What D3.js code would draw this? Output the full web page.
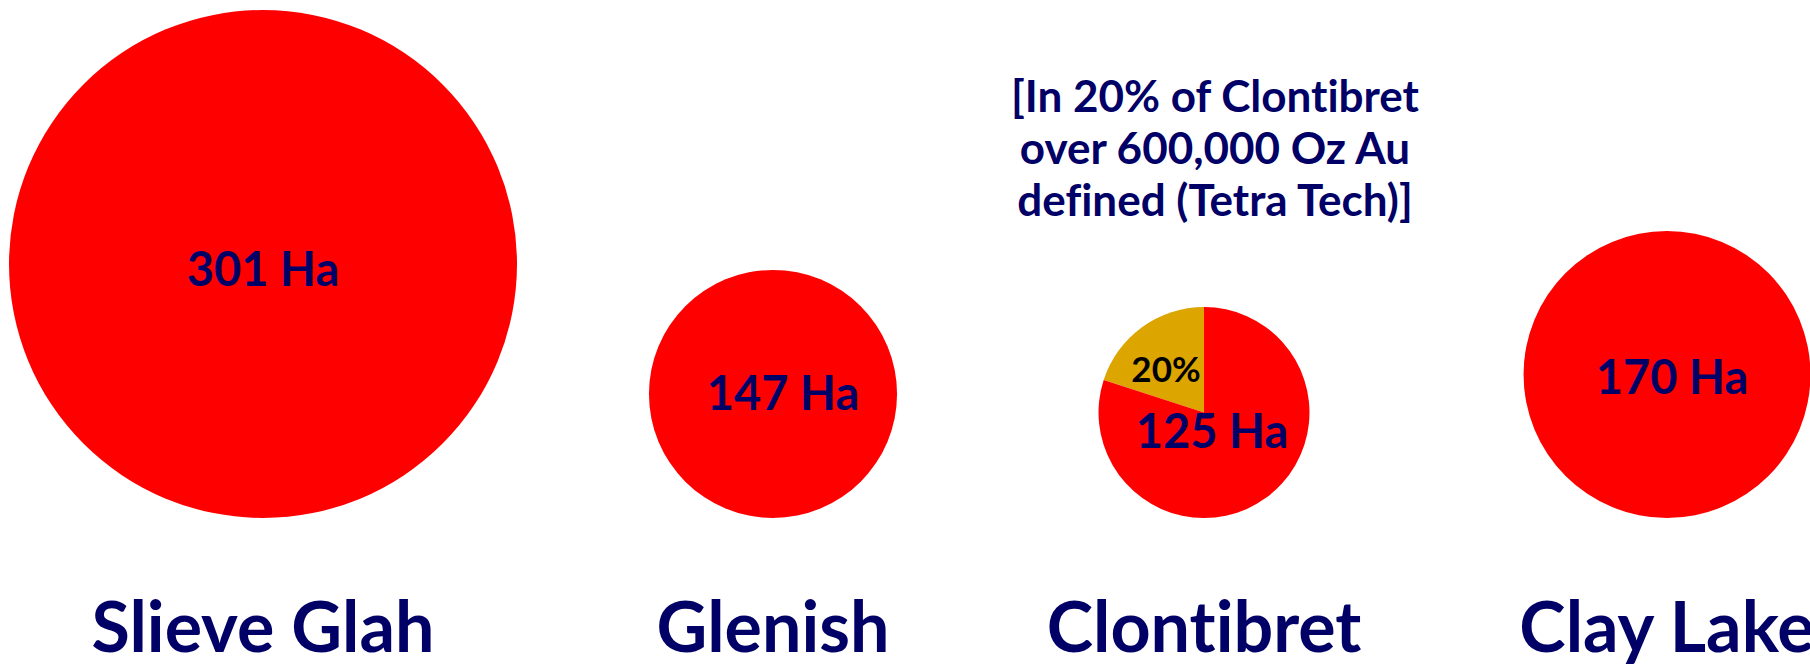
<!DOCTYPE html>
<html>
<head>
<meta charset="utf-8">
<script src="https://cdn.jsdelivr.net/npm/d3@7"></script>
<style>
  body { margin: 0; background: #fff; }
  svg { display: block; }
  text { font-family: Lato, "Open Sans", sans-serif; font-weight: bold; font-variant-ligatures: none; }
</style>
</head>
<body>
<div id="chartContainer"></div>
<script>
// data
const sites = ["Slieve Glah", "Glenish", "Clontibret", "Clay Lake"];
const areaHa = [301, 147, 125, 170];
const areaLabels = ["301 Ha", "147 Ha", "125 Ha", "170 Ha"];
const clontibretSplit = [20, 80];            // % defined / rest
const splitLabel = "20%";
const noteLines = ["[In 20% of Clontibret", "over 600,000 Oz Au", "defined (Tetra Tech)]"];

// layout
const width = 1810, height = 664;
const siteCenters = [263, 773, 1204, 1667];
const circleBottom = 518;
const labelShift = [[0, 22], [10, 16], [8, 35], [5, 19]];

const navy = "#000066", red = "#ff0000", gold = "#dca500";

let svg = d3.select("#chartContainer")
    .append("svg")
    .attr("width", width)
    .attr("height", height);

svg.append("rect").attr("width", width).attr("height", height).attr("fill", "#fff");

const x = d3.scaleOrdinal().domain(sites).range(siteCenters);
const r = d3.scaleLinear().domain([0, d3.max(areaHa)]).range([0, 254]);

const rows = sites.map((s, i) => ({ site: s, ha: areaHa[i], label: areaLabels[i], shift: labelShift[i] }));

let g = svg.selectAll(".site")
    .data(rows)
    .join("g")
    .attr("class", "site")
    .attr("transform", d => "translate(" + x(d.site) + "," + (circleBottom - r(d.ha)) + ")");

// plain circles for all but Clontibret
g.filter(d => d.site !== "Clontibret")
    .append("circle")
    .attr("r", d => r(d.ha))
    .attr("fill", red);

// Clontibret is a pie
let pieG = g.filter(d => d.site === "Clontibret");
const pie = d3.pie().sort(null).startAngle(-Math.PI * 2 * 0.2).endAngle(Math.PI * 2 * 0.8);
const arc = d3.arc().innerRadius(0);
pieG.selectAll("path")
    .data(d => pie(clontibretSplit).map(p => Object.assign(p, { rad: r(d.ha) })))
    .join("path")
    .attr("d", p => arc.outerRadius(p.rad)(p))
    .attr("fill", (p, i) => i === 0 ? gold : red);

pieG.append("text")
    .attr("x", -38)
    .attr("y", -31)
    .attr("text-anchor", "middle")
    .attr("font-size", 35)
    .attr("fill", "#000")
    .text(splitLabel);

// area labels
g.append("text")
    .attr("x", d => d.shift[0])
    .attr("y", d => d.shift[1])
    .attr("text-anchor", "middle")
    .attr("font-size", 47)
    .attr("fill", navy)
    .text(d => d.label);

// site names
svg.selectAll(".siteName")
    .data(sites)
    .join("text")
    .attr("class", "siteName")
    .attr("x", d => x(d))
    .attr("y", 652)
    .attr("text-anchor", "middle")
    .attr("font-size", 70)
    .attr("fill", navy)
    .text(d => d);

// note above Clontibret
svg.selectAll(".note")
    .data(noteLines)
    .join("text")
    .attr("class", "note")
    .attr("x", 1215)
    .attr("y", (d, i) => 112 + i * 52)
    .attr("text-anchor", "middle")
    .attr("font-size", 44)
    .attr("fill", navy)
    .text(d => d);
</script>
</body>
</html>
